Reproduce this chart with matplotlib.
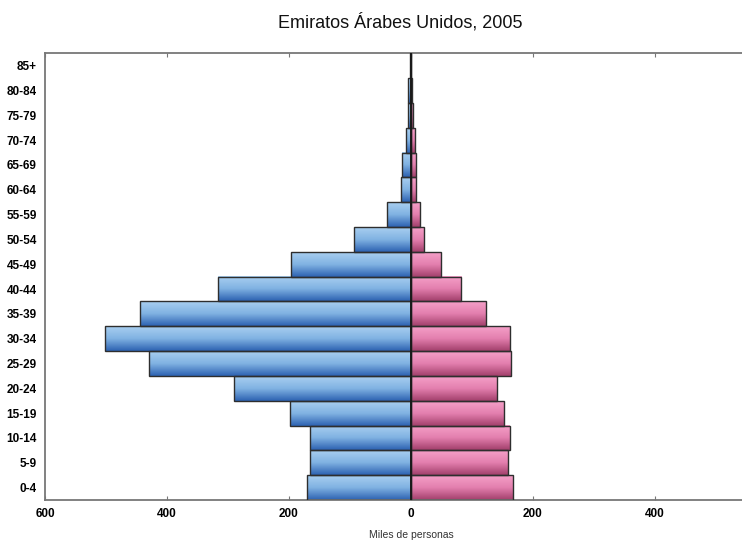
import matplotlib
matplotlib.use("Agg")
import matplotlib.pyplot as plt
import numpy as np
from matplotlib.colors import LinearSegmentedColormap
from matplotlib import font_manager

ages = ["0-4", "5-9", "10-14", "15-19", "20-24", "25-29", "30-34", "35-39",
        "40-44", "45-49", "50-54", "55-59", "60-64", "65-69", "70-74",
        "75-79", "80-84", "85+"]
hombres = [171, 165, 165, 198, 290, 430, 502, 444, 317, 196, 94, 39, 16, 14, 8, 5, 4, 2]
mujeres = [167, 160, 162, 152, 142, 165, 163, 124, 82, 49, 21, 15, 9, 8, 7, 3, 2, 1]
xticks = [-600, -400, -200, 0, 200, 400]

names = {f.name for f in font_manager.fontManager.ttflist}
narrow = "Liberation Sans Narrow" if "Liberation Sans Narrow" in names else "Liberation Sans"

fig = plt.figure(figsize=(7.42, 5.41), dpi=100)
ax = fig.add_axes([0.0606, 0.0758, 0.9394, 0.8257])

y = np.arange(len(ages))
cm_blue = LinearSegmentedColormap.from_list("b", ["#a9cff0", "#80b2e2", "#2d62b2"])
cm_pink = LinearSegmentedColormap.from_list("p", ["#f5a0c8", "#e37fae", "#a3406c"])
grad = np.linspace(0, 1, 64).reshape(-1, 1)

bars_m = ax.barh(y, [-v for v in hombres], height=1.0, facecolor="none",
                 edgecolor="#2e2e2e", linewidth=1.0, zorder=3)
bars_f = ax.barh(y, mujeres, height=1.0, facecolor="none",
                 edgecolor="#2e2e2e", linewidth=1.0, zorder=3)

for bars, cmap in ((bars_m, cm_blue), (bars_f, cm_pink)):
    for p in bars:
        x0, x1 = sorted([p.get_x(), p.get_x() + p.get_width()])
        y0, y1 = p.get_y(), p.get_y() + p.get_height()
        ax.imshow(grad, cmap=cmap, aspect="auto", extent=(x0, x1, y0, y1),
                  origin="upper", zorder=2, interpolation="bilinear")

ax.axvline(0, color="#1a1a1a", linewidth=1.4, zorder=4)

ax.set_xlim(-600, 543)
ax.set_ylim(-0.5, len(ages) - 0.5)
ax.set_xticks(xticks)
ax.set_xticklabels([str(abs(t)) for t in xticks], fontsize=8.5,
                   fontweight="bold", family=narrow)
ax.set_yticks(y)
ax.set_yticklabels(ages, fontsize=8.5, fontweight="bold", family=narrow)
ax.tick_params(axis="y", length=0, pad=6)
ax.tick_params(axis="x", direction="in", length=3, color="#777777", top=True, pad=6)

for s in ("left", "bottom", "top"):
    ax.spines[s].set_color("#777777")
    ax.spines[s].set_linewidth(1.3)
ax.spines["right"].set_visible(False)

fig.text(0.554, 0.011, "Miles de personas", ha="center", va="center",
         fontsize=7.5, color="#333333", family="Liberation Sans")
fig.text(0.539, 0.959, "Emiratos Árabes Unidos, 2005", ha="center", va="center",
         fontsize=13, family="Liberation Sans", color="#111111")

fig.savefig("out.png", dpi=100)
